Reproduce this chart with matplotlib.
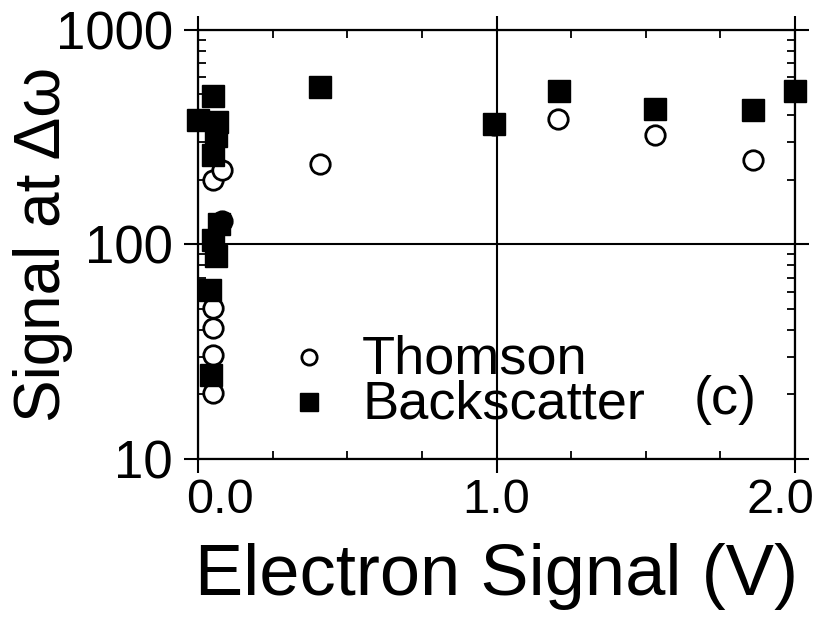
import numpy as np
import matplotlib
matplotlib.use("Agg")
import matplotlib.pyplot as plt
import matplotlib.transforms as mtrans
from matplotlib.ticker import FixedLocator, LogLocator, NullFormatter

plt.rcParams['font.family'] = ['Liberation Sans', 'DejaVu Sans']

# Thomson (open circles)
thomson_x = [0.05, 0.08, 0.08, 0.05, 0.05, 0.05, 0.05, 0.41, 0.99, 1.205, 1.53, 1.86, 2.0]
thomson_y = [200, 222, 128, 50.6, 40.8, 30.5, 20.3, 238, 362, 385, 324, 248, 520]

# Backscatter (filled squares)
back_x = [0.0, 0.05, 0.065, 0.06, 0.05, 0.07, 0.05, 0.06, 0.04, 0.045,
          0.41, 0.99, 1.21, 1.53, 1.86, 2.0]
back_y = [378, 491, 373, 320, 262, 125, 105, 88, 61, 24.7,
          541, 365, 521, 427, 423, 521]

xticks = [0.0, 1.0, 2.0]
xtick_labels = ["0.0", "1.0", "2.0"]
yticks = [10, 100, 1000]
ytick_labels = ["10", "100", "1000"]

fig = plt.figure(figsize=(8.18, 6.34), dpi=100)
ax = fig.add_axes([0.242, 0.276, 0.730, 0.677])

ax.set_yscale('log')
ax.set_xlim(0, 2.0)
ax.set_ylim(10, 1000)

ax.plot(thomson_x, thomson_y, 'o', ms=14, mfc='white', mec='black', mew=2.0,
        clip_on=False, zorder=3)
ax.plot(back_x, back_y, 's', ms=16, mfc='black', mec='black', mew=1.0,
        clip_on=False, zorder=4)

ax.set_xticks(xticks)
ax.set_xticklabels(xtick_labels)
ax.xaxis.set_minor_locator(FixedLocator(np.arange(0.25, 2.0, 0.25)))
ax.set_yticks(yticks)
ax.set_yticklabels(ytick_labels)
ax.yaxis.set_minor_locator(LogLocator(base=10, subs=np.arange(2, 10)))
ax.yaxis.set_minor_formatter(NullFormatter())

for s in ax.spines.values():
    s.set_linewidth(1.6)

ax.tick_params(which='major', direction='out', length=10, width=1.5,
               top=True, right=True, labelsize=35, pad=4)
ax.tick_params(axis='y', which='major', labelsize=38, pad=8)
ax.tick_params(which='minor', direction='in', length=6, width=1.3,
               top=True, right=True)
ax.grid(True, which='major', color='black', linewidth=1.5)

# shift edge tick labels inward like the original
lab = ax.get_xticklabels()
lab[0].set_transform(lab[0].get_transform() + mtrans.ScaledTranslation(22/100, 0, fig.dpi_scale_trans))
lab[-1].set_transform(lab[-1].get_transform() + mtrans.ScaledTranslation(-15/100, 0, fig.dpi_scale_trans))

ax.set_xlabel("Electron Signal (V)", fontsize=52, labelpad=14)
ax.set_ylabel("Signal at \u0394\u03c9", fontsize=46)
ax.yaxis.set_label_coords(-0.21, 0.5)

# legend
ax.plot([0.186], [0.238], 'o', ms=11, mfc='white', mec='black', mew=2.0,
        transform=ax.transAxes, clip_on=False)
ax.plot([0.186], [0.133], 's', ms=13, mfc='black', mec='black',
        transform=ax.transAxes, clip_on=False)
ax.text(0.275, 0.231, "Thomson", fontsize=39, transform=ax.transAxes, va='center')
ax.text(0.275, 0.126, "Backscatter", fontsize=39, transform=ax.transAxes, va='center')
ax.text(0.883, 0.138, "(c)", fontsize=39, transform=ax.transAxes, va='center', ha='center')

fig.savefig("out.png", dpi=100)
